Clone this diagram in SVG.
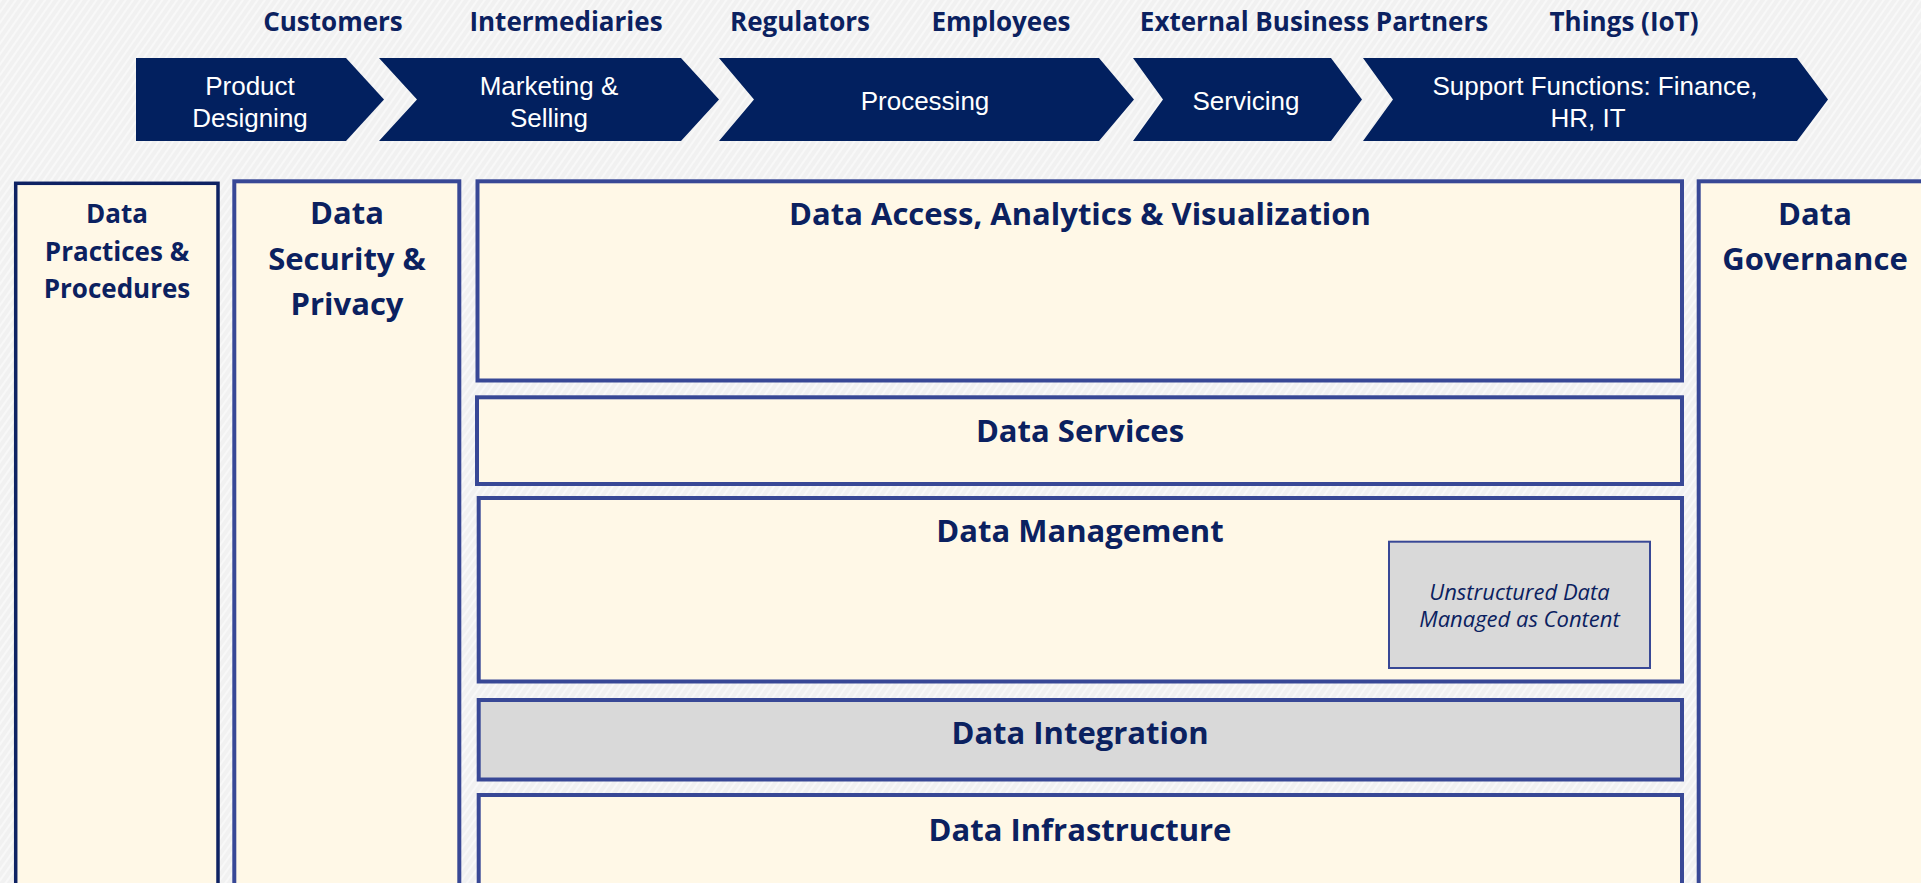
<svg xmlns="http://www.w3.org/2000/svg" width="1921" height="883" viewBox="0 0 1921 883">
  <defs>
    <pattern id="bgtex" width="6" height="6" patternUnits="userSpaceOnUse" patternTransform="rotate(-55)">
      <rect width="6" height="6" fill="#F1F1F1"/>
      <line x1="0" y1="1" x2="6" y2="1" stroke="#FBFBFB" stroke-width="1.5"/>
    </pattern>
    <style>
      .lbl { font-family: "Open Sans", "Liberation Sans", sans-serif; font-weight: 700; fill: #0B2160; text-anchor: middle; }
      .top { font-size: 26px; }
      .big { font-size: 31px; }
      .mid { font-size: 26px; }
      .chev { fill: #02205F; }
      .ctext { font-family: "Liberation Sans", Arial, sans-serif; font-size: 26px; fill: #FFFFFF; text-anchor: middle; }
      .box { fill: #FFF8E7; stroke: #384896; stroke-width: 4; }
      .boxdark { fill: #FFF8E7; stroke: #0E2263; stroke-width: 3.5; }
      .grey { fill: #D9D9D9; stroke: #384896; stroke-width: 4; }
      .small { fill: #D9D9D9; stroke: #384896; stroke-width: 2; }
      .ital { font-family: "Open Sans", "Liberation Sans", sans-serif; font-style: italic; font-size: 22px; fill: #0B2160; text-anchor: middle; }
    </style>
  </defs>

  <rect x="0" y="0" width="1921" height="883" fill="url(#bgtex)"/>

  <g id="stakeholders">
    <text class="lbl top" x="333" y="31">Customers</text>
    <text class="lbl top" x="566" y="31">Intermediaries</text>
    <text class="lbl top" x="800" y="31">Regulators</text>
    <text class="lbl top" x="1001" y="31">Employees</text>
    <text class="lbl top" x="1314" y="31">External Business Partners</text>
    <text class="lbl top" x="1624" y="31">Things (IoT)</text>
  </g>

  <g id="chevron-product-designing">
    <polygon class="chev" points="136,58 346,58 384,99.5 346,141 136,141"/>
    <text class="ctext" x="250" y="95">Product</text>
    <text class="ctext" x="250" y="127">Designing</text>
  </g>
  <g id="chevron-marketing-selling">
    <polygon class="chev" points="379,58 681,58 719,99.5 681,141 379,141 417,99.5"/>
    <text class="ctext" x="549" y="95">Marketing &amp;</text>
    <text class="ctext" x="549" y="127">Selling</text>
  </g>
  <g id="chevron-processing">
    <polygon class="chev" points="719,58 1099,58 1134,99.5 1099,141 719,141 754,99.5"/>
    <text class="ctext" x="925" y="110">Processing</text>
  </g>
  <g id="chevron-servicing">
    <polygon class="chev" points="1133,58 1331,58 1362,99.5 1331,141 1133,141 1163,99.5"/>
    <text class="ctext" x="1246" y="110">Servicing</text>
  </g>
  <g id="chevron-support">
    <polygon class="chev" points="1363,58 1797,58 1828,99.5 1797,141 1363,141 1393,99.5"/>
    <text class="ctext" x="1595" y="95">Support Functions: Finance,</text>
    <text class="ctext" x="1588" y="127">HR, IT</text>
  </g>

  <g id="data-practices">
    <rect class="boxdark" x="15.7" y="183.3" width="202.3" height="720"/>
    <text class="lbl mid" x="117" y="223">Data</text>
    <text class="lbl mid" x="117" y="261">Practices &amp;</text>
    <text class="lbl mid" x="117" y="298">Procedures</text>
  </g>

  <g id="data-security">
    <rect class="box" x="234.3" y="181.3" width="225" height="720"/>
    <text class="lbl big" x="347" y="224">Data</text>
    <text class="lbl big" x="347" y="270">Security &amp;</text>
    <text class="lbl big" x="347" y="315">Privacy</text>
  </g>

  <g id="data-access">
    <rect class="box" x="477.5" y="181.3" width="1204.5" height="199.2"/>
    <text class="lbl big" x="1080" y="225">Data Access, Analytics &amp; Visualization</text>
  </g>

  <g id="data-services">
    <rect class="box" x="477" y="397.3" width="1205" height="86.7"/>
    <text class="lbl big" x="1080" y="442">Data Services</text>
  </g>

  <g id="data-management">
    <rect class="box" x="478.7" y="498" width="1203.3" height="183.5"/>
    <text class="lbl big" x="1080" y="542">Data Management</text>
  </g>

  <g id="unstructured-data">
    <rect class="small" x="1389" y="541.7" width="261" height="126.3"/>
    <text class="ital" x="1519.5" y="600">Unstructured Data</text>
    <text class="ital" x="1519.5" y="627">Managed as Content</text>
  </g>

  <g id="data-integration">
    <rect class="grey" x="478.7" y="700" width="1203.3" height="79.5"/>
    <text class="lbl big" x="1080" y="744">Data Integration</text>
  </g>

  <g id="data-infrastructure">
    <rect class="box" x="478.7" y="795" width="1203.3" height="120"/>
    <text class="lbl big" x="1080" y="841">Data Infrastructure</text>
  </g>

  <g id="data-governance">
    <rect class="box" x="1698.7" y="181.3" width="240" height="720"/>
    <text class="lbl big" x="1815" y="225">Data</text>
    <text class="lbl big" x="1815" y="270">Governance</text>
  </g>

  <g id="connectors"/>
</svg>
